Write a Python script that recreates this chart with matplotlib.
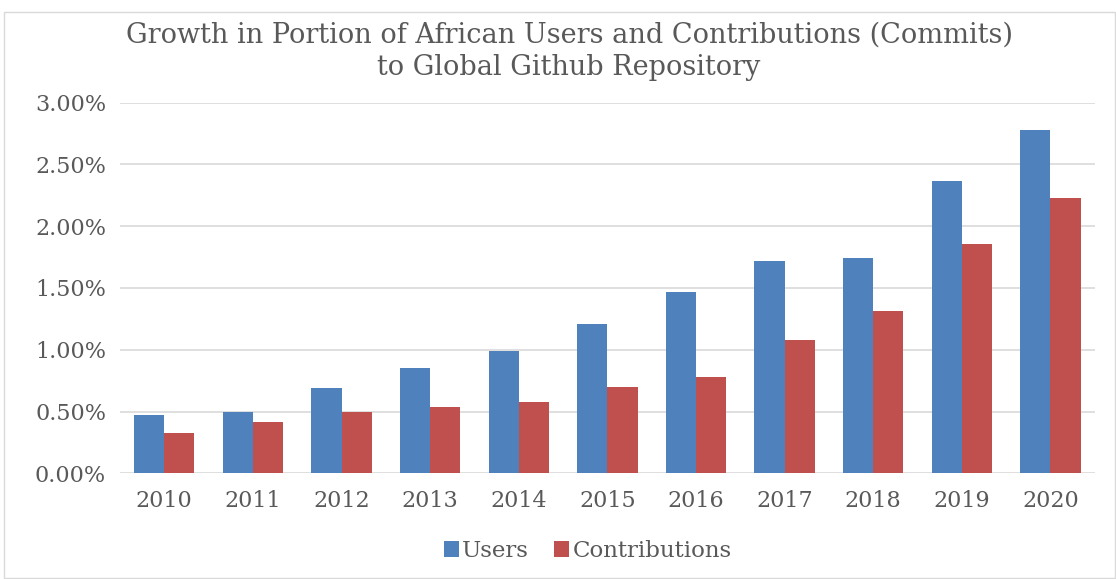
import matplotlib.pyplot as plt
import numpy as np
from matplotlib.ticker import PercentFormatter
from matplotlib.patches import Rectangle

years = ['2010', '2011', '2012', '2013', '2014', '2015', '2016', '2017', '2018', '2019', '2020']
users = [0.47, 0.50, 0.69, 0.85, 0.99, 1.21, 1.47, 1.72, 1.74, 2.37, 2.78]
contributions = [0.33, 0.415, 0.50, 0.535, 0.575, 0.70, 0.78, 1.08, 1.31, 1.86, 2.23]

blue = '#4F81BD'
red = '#C0504D'
grey = '#595959'
serif = ['DejaVu Serif']

fig = plt.figure(figsize=(11.16, 5.79), dpi=100)
ax = fig.add_axes([0.1075, 0.1826, 0.8735, 0.64])

# light border round the chart
fig.patches.append(Rectangle((0.004, 0.002), 0.995, 0.978, transform=fig.transFigure,
                             fill=False, edgecolor='#d9d9d9', linewidth=1))

x = np.arange(len(years))
w = 0.34
ax.bar(x - w / 2, users, w, color=blue, label='Users', zorder=3)
ax.bar(x + w / 2, contributions, w, color=red, label='Contributions', zorder=3)

ax.set_xlim(-0.5, len(years) - 0.5)
ax.set_ylim(0, 3.0)
ax.set_yticks(np.arange(0, 3.01, 0.5))
ax.yaxis.set_major_formatter(PercentFormatter(decimals=2))
ax.set_xticks(x)
ax.set_xticklabels(years)
ax.grid(axis='y', color='#d9d9d9', linewidth=1.2, zorder=0)
for s in ax.spines.values():
    s.set_visible(False)
ax.tick_params(length=0, labelsize=16, labelcolor=grey)
ax.tick_params(axis='x', pad=12)
ax.tick_params(axis='y', pad=10)
for lab in ax.get_xticklabels() + ax.get_yticklabels():
    lab.set_family(serif)

# two-line title, centred a bit right of the figure middle like the original
fig.text(0.51, 0.94, 'Growth in Portion of African Users and Contributions (Commits)',
         ha='center', va='center', fontsize=19.5, color=grey, family=serif)
fig.text(0.51, 0.883, 'to Global Github Repository',
         ha='center', va='center', fontsize=19.5, color=grey, family=serif)

leg = ax.legend(loc='center', bbox_to_anchor=(0.48, -0.21), ncol=2, frameon=False,
                prop={'family': serif, 'size': 16.5}, handlelength=0.65, handleheight=0.65,
                handletextpad=0.15, columnspacing=1.1)
for t in leg.get_texts():
    t.set_color(grey)

fig.savefig('out.png', dpi=100)
